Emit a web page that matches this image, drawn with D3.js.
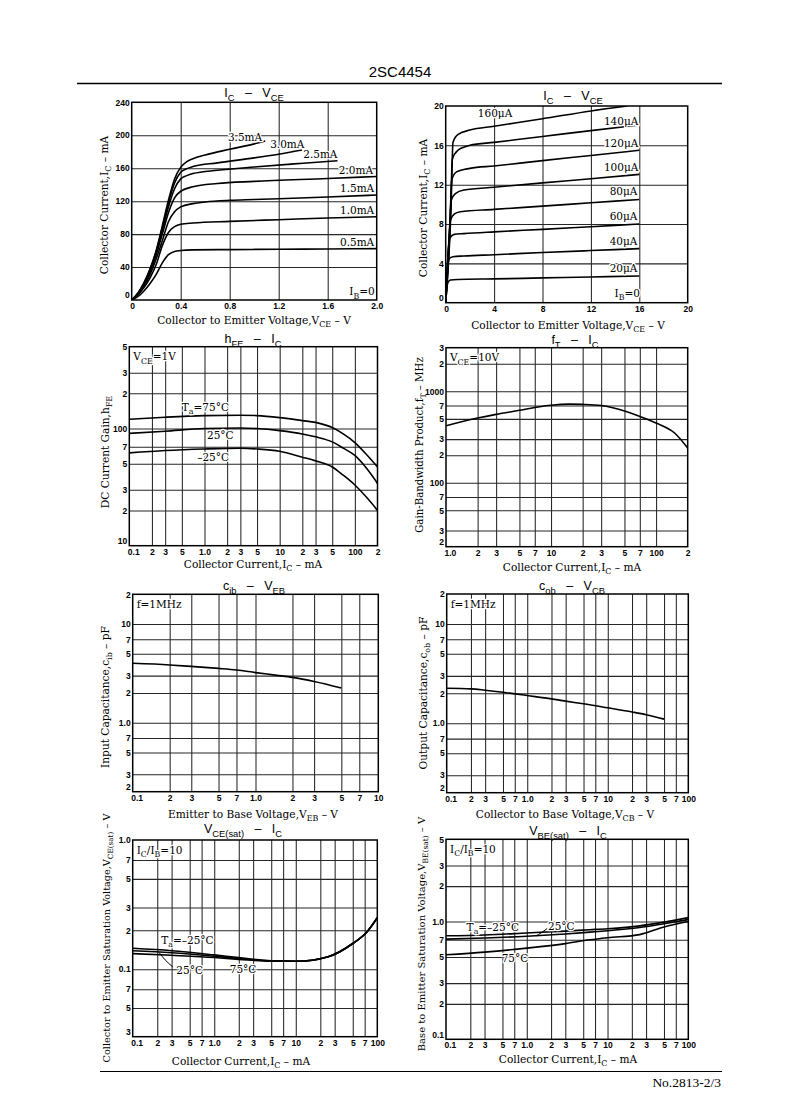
<!DOCTYPE html>
<html>
<head>
<meta charset="utf-8">
<script src="https://cdn.jsdelivr.net/npm/d3@7"></script>
<style>
  body { margin: 0; background: #fff; }
  svg { display: block; }
</style>
</head>
<body>
<svg id="page" width="799" height="1120"></svg>
<script>
// ---------- data ----------

// IC - VCE (0..2 V), points are [VCE V, IC mA]
const ib1Labels = ["0.5mA", "1.0mA", "1.5mA", "2.0mA", "2.5mA", "3.0mA", "3.5mA"];
const ib05mA = [[0,0],[0.05,4],[0.1,11],[0.15,20],[0.2,31],[0.25,45],[0.3,55],[0.35,59],[0.4,60],[0.5,60.8],[0.8,61.2],[1.2,61.6],[1.6,62],[2.0,62.4]];
const ib10mA = [[0,0],[0.05,6],[0.1,15],[0.15,27],[0.2,43],[0.25,66],[0.3,82],[0.35,89],[0.4,92],[0.5,93.5],[0.8,95.5],[1.2,97.5],[1.6,99.5],[2.0,101]];
const ib15mA = [[0,0],[0.05,7],[0.1,17],[0.15,31],[0.2,50],[0.25,72],[0.3,95],[0.35,107],[0.4,113],[0.5,117],[0.6,119],[0.8,121],[1.0,122],[1.6,125],[2.0,127.5]];
const ib20mA = [[0,0],[0.05,8],[0.1,19],[0.15,34],[0.2,55],[0.25,80],[0.3,106],[0.35,124],[0.4,132],[0.5,137.5],[0.7,141.5],[1.0,144],[1.6,147.5],[2.0,150]];
const ib25mA = [[0,0],[0.05,8],[0.1,20],[0.15,36],[0.2,58],[0.25,85],[0.3,113],[0.35,135],[0.4,147],[0.45,151],[0.5,153.5],[0.7,157.5],[1.0,161.5],[1.4,166],[1.68,169]];
const ib30mA = [[0,0],[0.05,8],[0.1,20],[0.15,37],[0.2,59],[0.25,88],[0.3,118],[0.35,142],[0.4,155],[0.45,159.5],[0.5,162],[0.7,166.5],[1.0,172.5],[1.2,177],[1.39,182]];
const ib35mA = [[0,0],[0.05,8],[0.1,21],[0.15,38],[0.2,60],[0.25,90],[0.3,121],[0.35,147],[0.4,161],[0.45,168],[0.5,171.5],[0.6,176],[0.8,183],[1.0,189.5],[1.09,193]];

// IC - VCE (0..20 V), points are [VCE V, IC mA]
const ib2Labels = ["20μA", "40μA", "60μA", "80μA", "100μA", "120μA", "140μA", "160μA"];
const ib20uA  = [[0,0],[0.1,1.6],[0.2,2.1],[0.4,2.3],[1,2.36],[4,2.42],[8,2.52],[12,2.62],[16,2.71]];
const ib40uA  = [[0,0],[0.15,3.5],[0.3,4.5],[0.6,4.68],[1.5,4.75],[4,4.88],[8,5.1],[12,5.3],[16,5.5]];
const ib60uA  = [[0,0],[0.2,5],[0.35,6.6],[0.7,6.95],[1.5,7.02],[4,7.2],[8,7.46],[12,7.73],[16,8.0]];
const ib80uA  = [[0,0],[0.25,6],[0.4,8.4],[0.7,9.0],[1.2,9.25],[4,9.49],[8,9.82],[12,10.16],[16,10.5]];
const ib100uA = [[0,0],[0.3,7],[0.45,10.4],[0.8,11.1],[1.5,11.46],[4,11.74],[8,12.18],[12,12.6],[16,13.05]];
const ib120uA = [[0,0],[0.35,8],[0.5,12.5],[0.9,13.3],[2,13.66],[4,13.9],[8,14.45],[12,14.97],[16,15.5]];
const ib140uA = [[0,0],[0.4,9],[0.55,14.6],[1.0,15.5],[2,16.0],[4,16.3],[8,16.9],[12,17.5],[16,18.07]];
const ib160uA = [[0,0],[0.45,10],[0.6,16.3],[1.0,17.1],[2,17.55],[4,17.94],[8,18.7],[12,19.5],[15,20.0]];

// hFE - IC
const hfeIc   = [0.1, 0.3, 1, 3, 5, 10, 20, 30, 50, 70, 100, 150, 200];
const hfe75   = [120, 125, 129, 130, 129, 124, 117, 113, 102, 90, 76, 58, 47];
const hfe25   = [91, 95, 100, 101, 100, 96, 90, 85, 77, 68, 59, 44, 34];
const hfeM25  = [62, 65, 67, 68, 67, 64, 57, 53, 47, 40, 33, 25, 20];

// fT - IC
const ftIc  = [1, 2, 3, 5, 7, 10, 15, 20, 30, 50, 70, 100, 150, 200];
const ftMHz = [420, 510, 560, 620, 665, 705, 725, 720, 700, 610, 530, 450, 350, 240];

// cib - VEB
const cibV  = [0.1, 0.2, 0.3, 0.5, 0.7, 1, 1.5, 2, 3, 5];
const cibPF = [4.0, 3.85, 3.72, 3.55, 3.42, 3.22, 3.02, 2.88, 2.62, 2.25];

// cob - VCB
const cobV  = [0.1, 0.2, 0.3, 0.5, 1, 2, 3, 5, 10, 20, 30, 50];
const cobPF = [2.25, 2.22, 2.15, 2.05, 1.9, 1.76, 1.67, 1.57, 1.43, 1.3, 1.22, 1.1];

// VCE(sat) - IC
const vceSatIc  = [0.1, 0.3, 1, 2, 5, 10, 25, 50, 75, 100];
const vceSatM25 = [0.145, 0.139, 0.129, 0.123, 0.116, 0.115, 0.125, 0.158, 0.195, 0.25];
const vceSat25  = [0.139, 0.134, 0.126, 0.121, 0.116, 0.115, 0.125, 0.158, 0.195, 0.25];
const vceSat75  = [0.132, 0.128, 0.123, 0.119, 0.115, 0.115, 0.125, 0.158, 0.195, 0.25];

// VBE(sat) - IC
const vbeSatIc  = [0.1, 0.3, 1, 3, 6, 10, 25, 50, 100];
const vbeSatM25 = [0.757, 0.77, 0.80, 0.83, 0.853, 0.87, 0.92, 0.99, 1.08];
const vbeSat25  = [0.71, 0.725, 0.75, 0.785, 0.813, 0.835, 0.89, 0.96, 1.04];
const vbeSat75  = [0.522, 0.55, 0.595, 0.65, 0.70, 0.73, 0.775, 0.9, 1.0];

// tick values and their printed labels
const lin1XTicks = [0, 0.4, 0.8, 1.2, 1.6, 2.0];
const lin1XLabels = ["0", "0.4", "0.8", "1.2", "1.6", "2.0"];
const lin1YTicks = [0, 40, 80, 120, 160, 200, 240];
const lin1YLabels = ["0", "40", "80", "120", "160", "200", "240"];
const lin2Ticks = [0, 4, 8, 12, 16, 20];
const lin2Labels = ["0", "4", "8", "12", "16", "20"];

const hfeXTicks = [0.1, 0.2, 0.3, 0.5, 1, 2, 3, 5, 10, 20, 30, 50, 100, 200];
const hfeXLabels = ["0.1", "2", "3", "5", "1.0", "2", "3", "5", "10", "2", "3", "5", "100", "2"];
const hfeYTicks = [10, 20, 30, 50, 70, 100, 200, 300, 500];
const hfeYLabels = ["10", "2", "3", "5", "7", "100", "2", "3", "5"];

const ftXTicks = [1, 2, 3, 5, 7, 10, 20, 30, 50, 70, 100, 200];
const ftXLabels = ["1.0", "2", "3", "5", "7", "10", "2", "3", "5", "7", "100", "2"];
const ftYTicks = [20, 30, 50, 70, 100, 200, 300, 500, 700, 1000, 2000, 3000];
const ftYLabels = ["2", "3", "5", "7", "100", "2", "3", "5", "7", "1000", "2", "3"];

const dec2Ticks = [0.1, 0.2, 0.3, 0.5, 0.7, 1, 2, 3, 5, 7, 10];
const dec2Labels = ["0.1", "2", "3", "5", "7", "1.0", "2", "3", "5", "7", "10"];
const dec3Ticks = [0.1, 0.2, 0.3, 0.5, 0.7, 1, 2, 3, 5, 7, 10, 20, 30, 50, 70, 100];
const dec3Labels = ["0.1", "2", "3", "5", "7", "1.0", "2", "3", "5", "7", "10", "2", "3", "5", "7", "100"];

const capYTicks = [0.2, 0.3, 0.5, 0.7, 1, 2, 3, 5, 7, 10, 20];
const capYLabels = ["2", "3", "5", "7", "1.0", "2", "3", "5", "7", "10", "2"];
const vceYTicks = [0.03, 0.05, 0.07, 0.1, 0.2, 0.3, 0.5, 0.7, 1.0];
const vceYLabels = ["3", "5", "7", "0.1", "2", "3", "5", "7", "1.0"];
const vbeYTicks = [0.1, 0.2, 0.3, 0.5, 0.7, 1, 2, 3, 5];
const vbeYLabels = ["0.1", "2", "3", "5", "7", "1.0", "2", "3", "5"];

// ---------- drawing ----------
const SERIF = "'DejaVu Serif','Liberation Serif',serif";
const SANS = "'Liberation Sans',Arial,sans-serif";
const GRID = "#262626";
const page = d3.select("#page");

// "_{..}" marks a subscript
function rich(t, s, fs) {
  const sh = fs * 0.3;
  let down = false;
  s.split(/(_\{[^}]*\})/).forEach(p => {
    if (!p) return;
    if (p.startsWith("_{")) {
      t.append("tspan").attr("dy", down ? 0 : sh).attr("font-size", fs * 0.75).text(p.slice(2, -1));
      down = true;
    } else {
      t.append("tspan").attr("dy", down ? -sh : 0).text(p);
      down = false;
    }
  });
  return t;
}

function label(g, x, y, s, o = {}) {
  const fs = o.size || 10.5;
  const yy = o.middle ? y + fs * 0.35 : y;
  const t = g.append("text")
    .attr("x", x).attr("y", yy)
    .attr("font-family", o.font || SERIF)
    .attr("font-size", fs)
    .attr("text-anchor", o.anchor || "start")
    .attr("fill", "#000");
  if (o.rotate) t.attr("transform", `rotate(-90,${x},${y})`);
  if (o.halo) {
    t.attr("stroke", "#fff").attr("stroke-width", 2.6)
      .attr("stroke-linejoin", "round").attr("paint-order", "stroke");
  }
  return rich(t, s, fs);
}

const T_SEP = "\u00a0\u00a0\u00a0–\u00a0\u00a0\u00a0";

function drawPanel(p) {
  const [L, R, T, B] = p.box;
  const g = page.append("g");
  const x = (p.xLog ? d3.scaleLog() : d3.scaleLinear()).domain(p.xDomain).range([L, R]);
  const y = (p.yLog ? d3.scaleLog() : d3.scaleLinear()).domain(p.yDomain).range([B, T]);
  const inner = (vals, dom) => {
    const eps = (dom[1] - dom[0]) * 1e-6;
    return vals.filter(v => v > dom[0] + eps && v < dom[1] - eps);
  };

  // grid
  g.append("g").attr("transform", `translate(0,${B})`)
    .call(d3.axisBottom(x).tickValues(inner(p.xTicks, p.xDomain)).tickSize(-(B - T)).tickFormat(""))
    .call(a => a.select(".domain").remove())
    .selectAll("line").attr("stroke", GRID).attr("stroke-width", 1.05);
  g.append("g").attr("transform", `translate(${L},0)`)
    .call(d3.axisLeft(y).tickValues(inner(p.yTicks, p.yDomain)).tickSize(-(R - L)).tickFormat(""))
    .call(a => a.select(".domain").remove())
    .selectAll("line").attr("stroke", GRID).attr("stroke-width", 1.05);

  // curves
  const clipId = "clip" + p.id;
  page.append("clipPath").attr("id", clipId).append("rect")
    .attr("x", L).attr("y", T).attr("width", R - L).attr("height", B - T);
  const line = d3.line().x(d => x(d[0])).y(d => y(d[1])).curve(d3.curveMonotoneX);
  g.append("g").attr("clip-path", `url(#${clipId})`)
    .selectAll("path").data(p.series).join("path")
    .attr("d", line)
    .attr("fill", "none").attr("stroke", "#000").attr("stroke-width", 1.6);

  // leader lines
  (p.leaders || []).forEach(l => {
    g.append("path").attr("d", d3.line().x(d => x(d[0])).y(d => y(d[1])).curve(d3.curveNatural)(l))
      .attr("fill", "none").attr("stroke", "#000").attr("stroke-width", 1);
  });

  // curve notes
  (p.notes || []).forEach(n => {
    label(g, x(n[0]), y(n[1]), n[2], { anchor: n[3] || "start", middle: true, halo: true });
  });

  // frame
  g.append("rect").attr("x", L).attr("y", T).attr("width", R - L).attr("height", B - T)
    .attr("fill", "none").attr("stroke", "#000").attr("stroke-width", 1.5);

  // condition text at top-left
  if (p.cond) label(g, L + 4, T + 10, p.cond, { middle: true, halo: true });

  // tick labels; the corner ones are nudged apart as on the sheet
  const xa = g.append("g").attr("transform", `translate(0,${B})`)
    .call(d3.axisBottom(x).tickValues(p.xTicks).tickFormat((d, i) => p.xLabels[i]).tickSize(0).tickPadding(3))
    .call(a => a.select(".domain").remove())
    .attr("font-family", SANS).attr("font-size", 8.5).attr("font-weight", "bold");
  xa.selectAll(".tick text").filter((d, i) => i === 0).attr("text-anchor", "start").attr("dx", -2);
  const ya = g.append("g").attr("transform", `translate(${L},0)`)
    .call(d3.axisLeft(y).tickValues(p.yTicks).tickFormat((d, i) => p.yLabels[i]).tickSize(0).tickPadding(2))
    .call(a => a.select(".domain").remove())
    .attr("font-family", SANS).attr("font-size", 8.5).attr("font-weight", "bold");
  ya.selectAll(".tick text").filter((d, i) => i === 0).attr("dy", "-0.25em");

  // titles and axis names
  label(g, p.title[0], p.title[1], p.title[2], { font: SANS, size: 12.5, anchor: "middle" });
  label(g, p.xName[0], p.xName[1], p.xName[2], { size: 10.6, anchor: "middle" });
  label(g, p.yName[0], p.yName[1], p.yName[2], { size: p.yName[3] || 10.6, anchor: "middle", rotate: true, middle: true });
}

const zipPts = (xs, ys) => d3.zip(xs, ys);

const panels = [
  {
    id: 1, box: [131.7, 376.7, 102.3, 300],
    xDomain: [0, 2], yDomain: [0, 240],
    xTicks: lin1XTicks, xLabels: lin1XLabels, yTicks: lin1YTicks, yLabels: lin1YLabels,
    series: [ib05mA, ib10mA, ib15mA, ib20mA, ib25mA, ib30mA, ib35mA],
    notes: [
      [0.925, 197, ib1Labels[6], "middle"], [1.27, 189, ib1Labels[5], "middle"],
      [1.54, 177, ib1Labels[4], "middle"], [1.83, 158, ib1Labels[3], "middle"],
      [1.84, 136, ib1Labels[2], "middle"], [1.84, 108.5, ib1Labels[1], "middle"],
      [1.84, 69.6, ib1Labels[0], "middle"], [1.88, 10, "I_{B}=0", "middle"]
    ],
    title: [254, 97, "I_{C}" + T_SEP + "V_{CE}"],
    xName: [254, 324, "Collector to Emitter Voltage,V_{CE} – V"],
    yName: [104, 205, "Collector Current,I_{C} – mA"]
  },
  {
    id: 2, box: [445.7, 687.7, 106, 302.7],
    xDomain: [0, 20], yDomain: [0, 20],
    xTicks: lin2Ticks, xLabels: lin2Labels, yTicks: lin2Ticks, yLabels: lin2Labels,
    series: [ib20uA, ib40uA, ib60uA, ib80uA, ib100uA, ib120uA, ib140uA, ib160uA],
    notes: [
      [4.08, 19.25, ib2Labels[7], "middle"], [14.5, 18.4, ib2Labels[6], "middle"],
      [14.5, 16.2, ib2Labels[5], "middle"], [14.5, 13.76, ib2Labels[4], "middle"],
      [14.7, 11.3, ib2Labels[3], "middle"], [14.7, 8.75, ib2Labels[2], "middle"],
      [14.7, 6.2, ib2Labels[1], "middle"], [14.7, 3.5, ib2Labels[0], "middle"],
      [15.0, 0.95, "I_{B}=0", "middle"]
    ],
    title: [573, 100, "I_{C}" + T_SEP + "V_{CE}"],
    xName: [568, 329, "Collector to Emitter Voltage,V_{CE} – V"],
    yName: [423, 208, "Collector Current,I_{C} – mA"]
  },
  {
    id: 3, box: [129.3, 377.5, 346.7, 545.7],
    xLog: true, yLog: true, xDomain: [0.1, 200], yDomain: [10, 500],
    xTicks: hfeXTicks, xLabels: hfeXLabels, yTicks: hfeYTicks, yLabels: hfeYLabels,
    series: [zipPts(hfeIc, hfe75), zipPts(hfeIc, hfe25), zipPts(hfeIc, hfeM25)],
    notes: [[0.5, 153, "T_{a}=75°C"], [1.08, 87, "25°C"], [0.8, 57.2, "–25°C"]],
    cond: "V_{CE}=1V",
    title: [253, 343, "h_{FE}" + T_SEP + "I_{C}"],
    xName: [253, 568, "Collector Current,I_{C} – mA"],
    yName: [105, 452, "DC Current Gain,h_{FE}"]
  },
  {
    id: 4, box: [446, 687.7, 347.7, 546.7],
    xLog: true, yLog: true, xDomain: [1, 200], yDomain: [20, 3000],
    xTicks: ftXTicks, xLabels: ftXLabels, yTicks: ftYTicks, yLabels: ftYLabels,
    series: [zipPts(ftIc, ftMHz)],
    cond: "V_{CE}=10V",
    title: [575, 344, "f_{T}" + T_SEP + "I_{C}"],
    xName: [572, 571, "Collector Current,I_{C} – mA"],
    yName: [419, 445, "Gain-Bandwidth Product,f_{T} – MHz", 10.2]
  },
  {
    id: 5, box: [132.7, 378.3, 594.3, 791.7],
    xLog: true, yLog: true, xDomain: [0.1, 10], yDomain: [0.2, 20],
    xTicks: dec2Ticks, xLabels: dec2Labels, yTicks: capYTicks, yLabels: capYLabels,
    series: [zipPts(cibV, cibPF)],
    cond: "f=1MHz",
    title: [254, 590, "c_{ib}" + T_SEP + "V_{EB}"],
    xName: [253, 818, "Emitter to Base Voltage,V_{EB} – V"],
    yName: [105, 697, "Input Capacitance,c_{ib} – pF"]
  },
  {
    id: 6, box: [446.7, 688.3, 594, 792.7],
    xLog: true, yLog: true, xDomain: [0.1, 100], yDomain: [0.2, 20],
    xTicks: dec3Ticks, xLabels: dec3Labels, yTicks: capYTicks, yLabels: capYLabels,
    series: [zipPts(cobV, cobPF)],
    cond: "f=1MHz",
    title: [572, 590, "c_{ob}" + T_SEP + "V_{CB}"],
    xName: [565, 818, "Collector to Base Voltage,V_{CB} – V"],
    yName: [423, 693, "Output Capacitance,c_{ob} – pF"]
  },
  {
    id: 7, box: [132.7, 377.3, 840, 1036.7],
    xLog: true, yLog: true, xDomain: [0.1, 100], yDomain: [0.03, 1.0],
    xTicks: dec3Ticks, xLabels: dec3Labels, yTicks: vceYTicks, yLabels: vceYLabels,
    series: [zipPts(vceSatIc, vceSatM25), zipPts(vceSatIc, vceSat25), zipPts(vceSatIc, vceSat75)],
    notes: [[0.224, 0.168, "T_{a}=–25°C"], [0.343, 0.0985, "25°C"], [1.55, 0.1, "75°C"]],
    leaders: [[[0.31, 0.104], [0.25, 0.118], [0.21, 0.135]]],
    cond: "I_{C}/I_{B}=10",
    title: [243, 833, "V_{CE(sat)}" + T_SEP + "I_{C}"],
    xName: [241, 1065, "Collector Current,I_{C} – mA"],
    yName: [107, 938, "Collector to Emitter Saturation Voltage,V_{CE(sat)} – V", 9.7]
  },
  {
    id: 8, box: [446, 688.3, 839.3, 1039.3],
    xLog: true, yLog: true, xDomain: [0.1, 100], yDomain: [0.1, 5],
    xTicks: dec3Ticks, xLabels: dec3Labels, yTicks: vbeYTicks, yLabels: vbeYLabels,
    series: [zipPts(vbeSatIc, vbeSatM25), zipPts(vbeSatIc, vbeSat25), zipPts(vbeSatIc, vbeSat75)],
    notes: [[0.18, 0.9, "T_{a}=–25°C"], [1.83, 0.91, "25°C"], [0.489, 0.49, "75°C"]],
    leaders: [[[1.79, 0.873], [1.5, 0.8], [1.3, 0.755]]],
    cond: "I_{C}/I_{B}=10",
    title: [568, 835, "V_{BE(sat)}" + T_SEP + "I_{C}"],
    xName: [568, 1063, "Collector Current,I_{C} – mA"],
    yName: [421, 934, "Base to Emitter Saturation Voltage,V_{BE(sat)} – V", 10]
  }
];

// page header / footer
label(page, 400, 77, "2SC4454", { font: SANS, size: 15, anchor: "middle" });
page.append("line").attr("x1", 77).attr("x2", 722).attr("y1", 83.5).attr("y2", 83.5)
  .attr("stroke", "#000").attr("stroke-width", 1.5);
page.append("line").attr("x1", 100).attr("x2", 722).attr("y1", 1071.5).attr("y2", 1071.5)
  .attr("stroke", "#000").attr("stroke-width", 1.2);
label(page, 721, 1087, "No.2813-2/3", { font: "'Liberation Serif',serif", size: 13.5, anchor: "end" });

panels.forEach(drawPanel);
</script>
</body>
</html>
